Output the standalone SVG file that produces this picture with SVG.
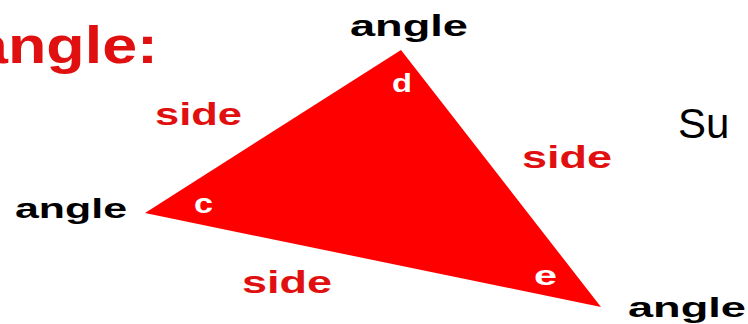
<svg xmlns="http://www.w3.org/2000/svg" width="748" height="324" viewBox="0 0 748 324">
<style>
.lbl{font-family:"Liberation Sans",Arial,sans-serif;font-weight:bold}
.blk{fill:#000}
.red{fill:#e01010}
.wht{fill:#fff}
</style>
<rect width="748" height="324" fill="#fff"/>
<g id="title"><text class="lbl red" x="-27" y="63" font-size="52" textLength="185" lengthAdjust="spacingAndGlyphs">angle:</text></g>
<g id="triangle"><polygon points="145,213 401,50 601,307" fill="#ff0000"/></g>
<g id="vertex-labels">
<text class="lbl wht" x="392" y="92" font-size="25" textLength="20" lengthAdjust="spacingAndGlyphs">d</text>
<text class="lbl wht" x="194" y="213" font-size="27" textLength="19" lengthAdjust="spacingAndGlyphs">c</text>
<text class="lbl wht" x="534" y="285" font-size="27" textLength="23" lengthAdjust="spacingAndGlyphs">e</text>
</g>
<g id="angle-labels">
<text class="lbl blk" x="350" y="36" font-size="29" textLength="118" lengthAdjust="spacingAndGlyphs">angle</text>
<text class="lbl blk" x="15" y="218" font-size="27" textLength="112" lengthAdjust="spacingAndGlyphs">angle</text>
<text class="lbl blk" x="628" y="317" font-size="28" textLength="118" lengthAdjust="spacingAndGlyphs">angle</text>
</g>
<g id="side-labels">
<text class="lbl red" x="155" y="125" font-size="31" textLength="87" lengthAdjust="spacingAndGlyphs">side</text>
<text class="lbl red" x="522" y="168" font-size="31" textLength="90" lengthAdjust="spacingAndGlyphs">side</text>
<text class="lbl red" x="242" y="293" font-size="31" textLength="90" lengthAdjust="spacingAndGlyphs">side</text>
</g>
<g id="su"><text x="678" y="138" font-family="Liberation Sans,Arial,sans-serif" font-size="42" fill="#000">Su</text></g>
</svg>
